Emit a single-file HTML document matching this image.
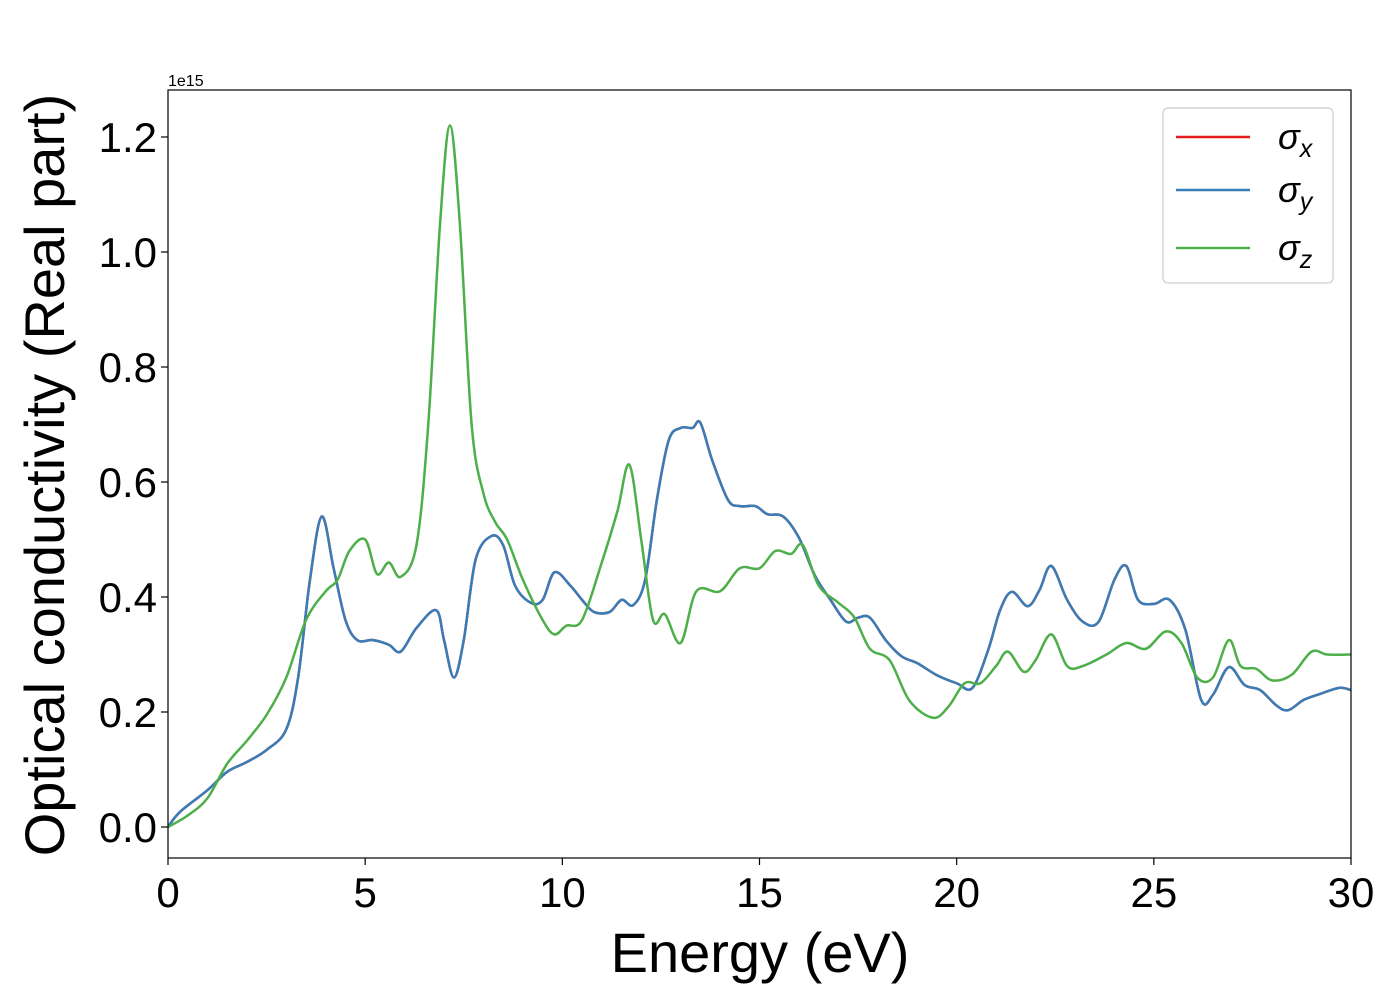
<!DOCTYPE html>
<html><head><meta charset="utf-8"><style>
html,body{margin:0;padding:0;background:#fff;}
svg{display:block;font-family:"Liberation Sans","DejaVu Sans",sans-serif;}
</style></head><body>
<svg id="chart" width="1400" height="1000" viewBox="0 0 1400 1000">
<rect x="0" y="0" width="1400" height="1000" fill="#fff"/>
<g id="series"></g>
<rect x="168" y="90" width="1183" height="768" fill="none" stroke="#000" stroke-width="1.2"/>
<g id="xticks"></g>
<g id="yticks"></g>
<text x="168" y="86" font-size="16">1e15</text>
<text x="760" y="972" font-size="56" text-anchor="middle">Energy (eV)</text>
<text transform="translate(64,475) rotate(-90)" font-size="56" text-anchor="middle">Optical conductivity (Real part)</text>
<g>
<rect x="1163" y="108" width="170" height="175" rx="5" fill="#fff" stroke="#ccc" stroke-width="1.2"/>
<g>
<line x1="1176" y1="137" x2="1250" y2="137" stroke="#e41a1c" stroke-width="2.5"/>
<text x="1278" y="149" font-size="36" font-style="italic">σ<tspan font-size="25" dy="8">x</tspan></text></g>
<g>
<line x1="1176" y1="190" x2="1250" y2="190" stroke="#377eb8" stroke-width="2.5"/>
<text x="1278" y="202" font-size="36" font-style="italic">σ<tspan font-size="25" dy="8">y</tspan></text></g>
<g>
<line x1="1176" y1="248" x2="1250" y2="248" stroke="#4daf4a" stroke-width="2.5"/>
<text x="1278" y="260" font-size="36" font-style="italic">σ<tspan font-size="25" dy="8">z</tspan></text></g>
</g>
</svg>
<script>
const xTickLabels = [0,5,10,15,20,25,30];
const yTickLabels = ["0.0","0.2","0.4","0.6","0.8","1.0","1.2"];
const energyXY = [0,0.3,1,1.5,2,2.5,3,3.3,3.6,3.9,4.2,4.5,4.8,5.2,5.6,5.9,6.3,6.8,7.0,7.25,7.5,7.8,8.2,8.5,8.8,9.2,9.5,9.8,10.2,10.5,10.8,11.2,11.5,11.8,12.1,12.4,12.7,13,13.3,13.5,13.8,14.2,14.5,14.9,15.2,15.6,16,16.4,16.8,17.2,17.5,17.8,18.2,18.6,19,19.5,20,20.4,20.8,21.1,21.4,21.8,22.1,22.4,22.8,23.2,23.6,24,24.3,24.6,25,25.4,25.8,26.2,26.5,26.9,27.3,27.7,28.1,28.4,28.8,29.2,29.7,30];
const sigmaY = [0,0.026,0.064,0.096,0.113,0.134,0.17,0.26,0.43,0.54,0.45,0.36,0.325,0.325,0.317,0.305,0.346,0.377,0.325,0.26,0.325,0.465,0.506,0.49,0.42,0.39,0.395,0.443,0.42,0.395,0.374,0.374,0.395,0.386,0.43,0.57,0.673,0.694,0.694,0.703,0.638,0.569,0.558,0.558,0.544,0.54,0.503,0.438,0.395,0.357,0.364,0.364,0.325,0.297,0.285,0.264,0.25,0.242,0.308,0.377,0.409,0.384,0.412,0.454,0.395,0.357,0.357,0.43,0.454,0.395,0.388,0.395,0.343,0.221,0.23,0.278,0.247,0.238,0.212,0.203,0.221,0.231,0.242,0.238];
const sigmaX = sigmaY.slice();
const energyZ = [0,0.5,1,1.5,2,2.5,3,3.5,4,4.3,4.6,5.0,5.3,5.6,5.9,6.3,6.6,6.9,7.15,7.4,7.7,8.0,8.3,8.6,9.0,9.5,9.8,10.1,10.5,11.0,11.4,11.7,12.0,12.3,12.6,13.0,13.4,14,14.5,15,15.4,15.8,16.1,16.5,17,17.4,17.8,18.3,18.8,19.4,19.8,20.2,20.6,21.0,21.3,21.7,22.0,22.4,22.8,23.2,23.8,24.3,24.8,25.3,25.7,26.1,26.5,26.9,27.2,27.6,28.0,28.5,29,29.4,30];
const sigmaZ = [0,0.02,0.05,0.11,0.15,0.195,0.26,0.36,0.41,0.43,0.48,0.5,0.44,0.46,0.435,0.49,0.7,1.05,1.22,1.05,0.7,0.58,0.53,0.5,0.43,0.36,0.335,0.35,0.36,0.46,0.55,0.63,0.5,0.36,0.37,0.32,0.41,0.41,0.45,0.45,0.48,0.475,0.49,0.42,0.39,0.365,0.31,0.29,0.22,0.19,0.21,0.25,0.25,0.28,0.305,0.27,0.29,0.335,0.28,0.28,0.3,0.32,0.31,0.34,0.32,0.26,0.26,0.325,0.28,0.275,0.255,0.265,0.305,0.3,0.3];

const NS="http://www.w3.org/2000/svg";
function xScale(v){return 168+(v/30)*1183;}
function yScale(v){return 827-v*575;}
function mk(tag,attrs,parent){const e=document.createElementNS(NS,tag);for(const k in attrs)e.setAttribute(k,attrs[k]);parent.appendChild(e);return e;}
function pathFor(xs,ys){
  const p=xs.map((x,i)=>[xScale(x),yScale(ys[i])]);
  let d="M"+p[0][0]+","+p[0][1];
  for(let i=0;i<p.length-1;i++){
    const p0=p[Math.max(0,i-1)],p1=p[i],p2=p[i+1],p3=p[Math.min(p.length-1,i+2)];
    const c1=[p1[0]+(p2[0]-p0[0])/6,p1[1]+(p2[1]-p0[1])/6];
    const c2=[p2[0]-(p3[0]-p1[0])/6,p2[1]-(p3[1]-p1[1])/6];
    d+=" C"+c1[0]+","+c1[1]+" "+c2[0]+","+c2[1]+" "+p2[0]+","+p2[1];
  }
  return d;
}
const sg=document.getElementById("series");
const cp=mk("clipPath",{id:"clip"},sg);mk("rect",{x:168,y:90,width:1183,height:768},cp);
const px=mk("path",{d:pathFor(energyXY,sigmaX),fill:"none",stroke:"#e41a1c","stroke-width":2.5,"clip-path":"url(#clip)"},sg);


const pz=mk("path",{d:pathFor(energyZ,sigmaZ),fill:"none",stroke:"#4daf4a","stroke-width":2.5,"clip-path":"url(#clip)"},sg);


const py=mk("path",{d:pathFor(energyXY,sigmaY),fill:"none",stroke:"#377eb8","stroke-width":2.5,"clip-path":"url(#clip)"},sg);


// put green above blue? reference: green drawn last
sg.appendChild(pz);

const xg=document.getElementById("xticks");
xTickLabels.forEach(v=>{
  const x=xScale(v);
  const l=mk("line",{x1:x,y1:858,x2:x,y2:865,stroke:"#000","stroke-width":1.2},xg);
  
  
  const t=mk("text",{x:x,y:907,"font-size":42,"text-anchor":"middle"},xg);
  t.textContent=v;
  
  
});
const yg=document.getElementById("yticks");
yTickLabels.forEach(s=>{
  const y=yScale(parseFloat(s));
  const l=mk("line",{x1:161,y1:y,x2:168,y2:y,stroke:"#000","stroke-width":1.2},yg);
  
  
  const t=mk("text",{x:157,y:y+15,"font-size":42,"text-anchor":"end"},yg);
  t.textContent=s;
  
  
});
</script>
</body></html>
